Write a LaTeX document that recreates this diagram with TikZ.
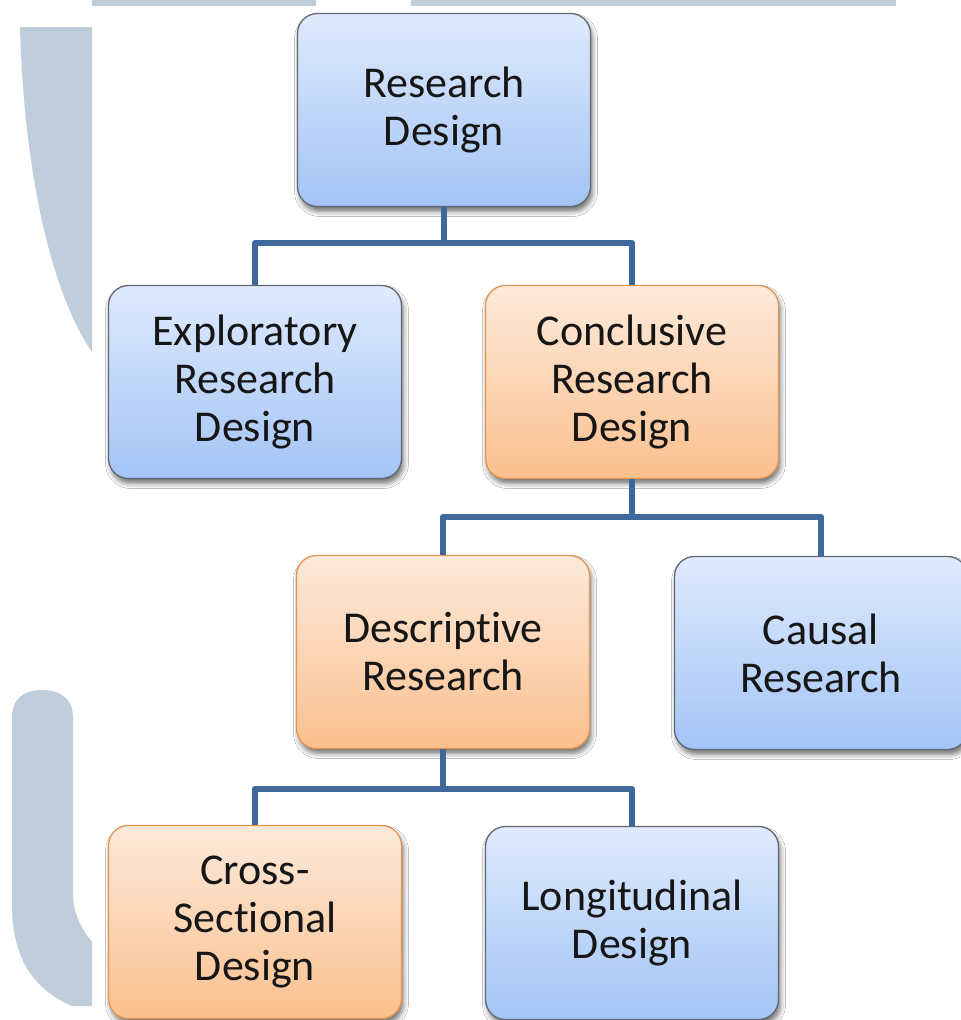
\documentclass[tikz,border=0pt]{standalone}
\usepackage{fontspec}
\setmainfont[Ligatures=NoCommon]{Carlito}
\usetikzlibrary{calc,shadows.blur}

\definecolor{wmark}{RGB}{192,206,219}
\definecolor{blueTop}{RGB}{223,234,252}
\definecolor{blueBot}{RGB}{163,196,246}
\definecolor{blueLine}{RGB}{98,104,116}
\definecolor{orTop}{RGB}{253,234,219}
\definecolor{orBot}{RGB}{250,192,142}
\definecolor{orLine}{RGB}{232,148,78}
\definecolor{linkcol}{RGB}{62,104,155}
\definecolor{txt}{RGB}{22,22,22}

\tikzset{
  box/.style={rectangle, rounded corners=20pt, minimum width=293pt,
    minimum height=193pt, align=center, line width=1.3pt, text=txt,
    font=\fontsize{44}{48}\selectfont,
    blur shadow={shadow xshift=2pt, shadow yshift=-5pt,
      shadow blur radius=5pt, shadow opacity=55}},
  bluebox/.style={box, draw=blueLine, top color=blueTop, bottom color=blueBot},
  orbox/.style={box, draw=orLine, top color=orTop, bottom color=orBot},
  link/.style={draw=linkcol, line width=6.5pt, line join=round}
}

\begin{document}
\begin{tikzpicture}[x=1pt,y=-1pt]
  \clip (0,0) rectangle (961,1020);
  \fill[white] (0,0) rectangle (961,1020);

  % pale logo fragments in the background
  \fill[wmark] (92,0) rectangle (316,6);
  \fill[wmark] (411,0) rectangle (896,6);
  \fill[wmark] (20,27) -- (92,27) -- (92,352)
    .. controls (50,290) and (24,170) .. (20,27) -- cycle;
  \fill[wmark] (12,718) .. controls (12,700) and (22,690) .. (42,690)
    .. controls (62,690) and (73,700) .. (73,718) -- (73,895)
    .. controls (73,915) and (84,932) .. (92,942) -- (92,1006)
    -- (72,1006) .. controls (35,990) and (12,960) .. (12,905) -- cycle;

  % boxes
  \node[bluebox] (rd)    at (444,110) {Research\\Design};
  \node[bluebox] (exp)   at (255,382) {Exploratory\\Research\\Design};
  \node[orbox]   (con)   at (632,382) {Conclusive\\Research\\Design};
  \node[orbox]   (desc)  at (443,652) {Descriptive\\Research};
  \node[bluebox] (caus)  at (821,653) {Causal\\Research};
  \node[orbox]   (cross) at (255,922) {Cross-\\Sectional\\Design};
  \node[bluebox] (long)  at (632,923) {Longitudinal\\Design};

  % tree connectors
  \coordinate (b1) at ($(rd.south)+(0,36)$);
  \coordinate (b2) at ($(con.south)+(0,38)$);
  \coordinate (b3) at ($(desc.south)+(0,40)$);
  \draw[link] (rd.south) -- (b1);
  \draw[link] (exp.north) |- (b1) -| (con.north);
  \draw[link] (con.south) -- (b2);
  \draw[link] (desc.north) |- (b2) -| (caus.north);
  \draw[link] (desc.south) -- (b3);
  \draw[link] (cross.north) |- (b3) -| (long.north);
\end{tikzpicture}
\end{document}
